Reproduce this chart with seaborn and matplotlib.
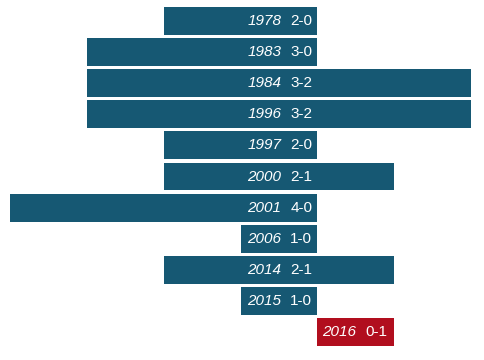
import matplotlib
matplotlib.use("Agg")
import matplotlib.pyplot as plt
import seaborn as sns
import pandas as pd

years = ["1978", "1983", "1984", "1996", "1997", "2000", "2001", "2006", "2014", "2015", "2016"]
goals_for = [2, 3, 3, 3, 2, 2, 4, 1, 2, 1, 0]
goals_against = [0, 0, 2, 2, 0, 1, 0, 0, 1, 0, 1]

df = pd.DataFrame({"year": years, "gf": goals_for, "ga": goals_against})
df["result"] = ["win" if f > a else "loss" for f, a in zip(df.gf, df.ga)]
df["neg_gf"] = -df["gf"]
palette = {"win": "#165873", "loss": "#b10e1e"}

sns.set_theme(style="white")
plt.rcParams["font.family"] = ["Liberation Sans", "DejaVu Sans"]

fig = plt.figure(figsize=(4.84, 3.6), dpi=100)
ax = fig.add_axes([10 / 484, 14 / 360, 461 / 484, 339 / 360])

sns.barplot(data=df, x="neg_gf", y="year", hue="result", palette=palette,
            order=years, width=0.9, dodge=False, legend=False, ax=ax,
            saturation=1, linewidth=0)
sns.barplot(data=df, x="ga", y="year", hue="result", palette=palette,
            order=years, width=0.9, dodge=False, legend=False, ax=ax,
            saturation=1, linewidth=0)

ax.set_xlim(-4, 2)
ax.set_ylim(len(years) - 0.55, -0.45)
ax.axis("off")

for i, (y, f, a) in enumerate(zip(years, goals_for, goals_against)):
    score = f"{f}-{a}"
    if f > a:
        xa = 0
        off = -5
    else:
        xa = a
        off = -7
    ax.annotate(score, (xa, i), xytext=(off, 0), textcoords="offset pixels",
                ha="right", va="center", color="white", fontsize=11)
    ax.annotate(y, (xa, i), xytext=(off - 31, 0), textcoords="offset pixels",
                ha="right", va="center", color="white", fontsize=11,
                style="italic")

fig.savefig("out.png", dpi=100)
